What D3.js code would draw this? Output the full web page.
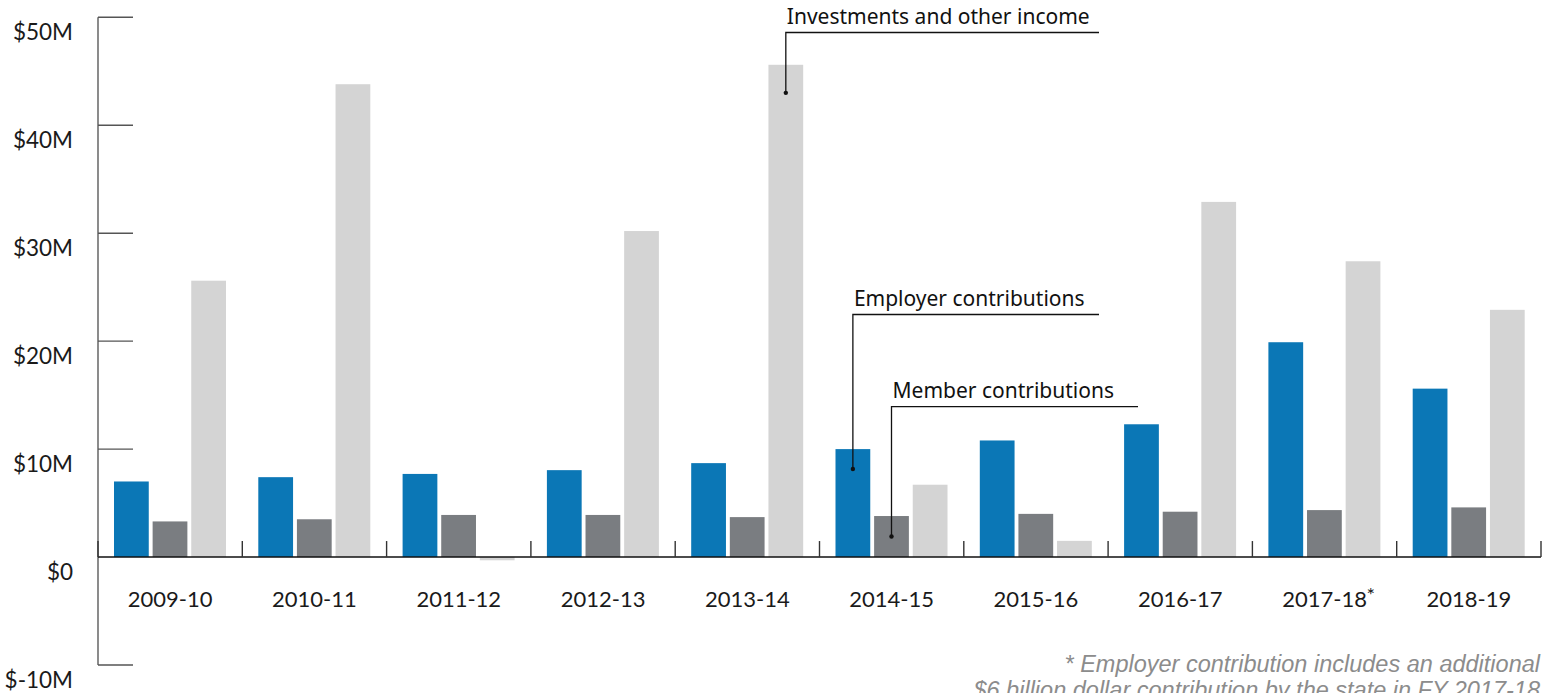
<!DOCTYPE html>
<html>
<head>
<meta charset="utf-8">
<script src="https://cdn.jsdelivr.net/npm/d3@7"></script>
<style>
  body { margin: 0; background: #fff; }
  svg { display: block; }
</style>
</head>
<body>
<div id="chart"></div>
<script>
// Data (millions of dollars)
const years = ["2009-10", "2010-11", "2011-12", "2012-13", "2013-14", "2014-15", "2015-16", "2016-17", "2017-18", "2018-19"];
const employer = [7.0, 7.4, 7.7, 8.05, 8.7, 10.0, 10.8, 12.3, 19.9, 15.6];
const member = [3.3, 3.5, 3.9, 3.9, 3.7, 3.8, 4.0, 4.2, 4.35, 4.6];
const investments = [25.6, 43.8, -0.3, 30.2, 45.6, 6.7, 1.5, 32.9, 27.4, 22.9];
const yTicks = [-10, 0, 10, 20, 30, 40, 50];
const seriesKeys = ["employer", "member", "investments"];
const seriesColors = ["#0b77b6", "#7a7d81", "#d4d4d4"];

const width = 1542, height = 693;
const svg = d3.select("#chart").append("svg")
    .attr("width", width)
    .attr("height", height);

const y = d3.scaleLinear().domain([-10, 50]).range([665, 17.3]);
const x = d3.scaleBand().domain(years).range([98, 1541]).paddingInner(0).paddingOuter(0);
const xInner = d3.scaleBand().domain(seriesKeys)
    .range([16, x.bandwidth() - 16.3]).paddingInner(0.1).paddingOuter(0);

const rows = years.map((yr, i) => ({
    year: yr,
    values: [employer[i], member[i], investments[i]]
}));

// Y axis: vertical line + short ticks to the right
svg.append("line")
    .attr("x1", 98).attr("x2", 98)
    .attr("y1", y(50)).attr("y2", y(-10))
    .style("stroke", "#6f6f6f").style("stroke-width", 1.6);

yTicks.filter(d => d !== 0).forEach(t => {
    svg.append("line")
        .attr("x1", 98).attr("x2", 133)
        .attr("y1", y(t)).attr("y2", y(t))
        .style("stroke", "#555").style("stroke-width", 1.4);
});

svg.selectAll("text.ylab").data(yTicks).enter().append("text")
    .attr("class", "ylab")
    .attr("x", 73)
    .attr("y", d => y(d) + 23)
    .attr("text-anchor", "end")
    .style("font-family", "Lato, sans-serif")
    .style("font-size", "22.5px")
    .style("fill", "#1a1a1a")
    .text(d => d === 0 ? "$0" : `$${d}M`);

// Bars
const groups = svg.selectAll("g.grp").data(rows).enter().append("g")
    .attr("class", "grp")
    .attr("transform", d => `translate(${x(d.year)},0)`);

groups.selectAll("rect").data(d => d.values.map((v, j) => ({ key: seriesKeys[j], v, j })))
    .enter().append("rect")
    .attr("x", d => xInner(d.key))
    .attr("width", xInner.bandwidth())
    .attr("y", d => y(Math.max(0, d.v)))
    .attr("height", d => Math.abs(y(d.v) - y(0)))
    .style("fill", d => seriesColors[d.j]);

// Zero baseline and group separators
svg.append("line")
    .attr("x1", 98).attr("x2", 1541)
    .attr("y1", y(0)).attr("y2", y(0))
    .style("stroke", "#111").style("stroke-width", 1.6);

const seps = years.map(d => x(d)).concat([x.range()[1]]);
svg.selectAll("line.sep").data(seps).enter().append("line")
    .attr("class", "sep")
    .attr("x1", d => d).attr("x2", d => d)
    .attr("y1", y(0) - 16).attr("y2", y(0))
    .style("stroke", "#333").style("stroke-width", 1.4);

// Category labels
svg.selectAll("text.cat").data(years).enter().append("text")
    .attr("class", "cat")
    .attr("x", d => x(d) + x.bandwidth() / 2)
    .attr("y", 607)
    .attr("text-anchor", "middle")
    .style("font-family", "Lato, sans-serif")
    .style("font-size", "22px")
    .style("fill", "#1a1a1a")
    .text(d => d);

svg.append("text")
    .attr("x", x("2017-18") + x.bandwidth() / 2 + 42)
    .attr("y", 602)
    .style("font-family", "Lato, sans-serif")
    .style("font-size", "20px")
    .style("fill", "#1a1a1a")
    .text("*");

// Annotations
const annotations = [
    { label: "Investments and other income", year: "2013-14", key: "investments", dot: 43.0, lineY: 32.5, lineEnd: 1099 },
    { label: "Employer contributions", year: "2014-15", key: "employer", dot: 8.15, lineY: 314.5, lineEnd: 1099 },
    { label: "Member contributions", year: "2014-15", key: "member", dot: 1.9, lineY: 406.7, lineEnd: 1138 }
];

annotations.forEach(a => {
    const cx = x(a.year) + xInner(a.key) + xInner.bandwidth() / 2;
    const cy = y(a.dot);
    svg.append("path")
        .attr("d", `M${cx},${cy}V${a.lineY}H${a.lineEnd}`)
        .style("fill", "none")
        .style("stroke", "#111")
        .style("stroke-width", 1.3);
    svg.append("circle")
        .attr("cx", cx).attr("cy", cy).attr("r", 2.2)
        .style("fill", "#111");
    svg.append("text")
        .attr("x", cx + 1)
        .attr("y", a.lineY - 9)
        .style("font-family", "'Noto Sans', sans-serif")
        .style("font-size", "21px")
        .style("fill", "#111")
        .text(a.label);
});

// Footnote
const foot = ["* Employer contribution includes an additional",
              "$6 billion dollar contribution by the state in FY 2017-18"];
svg.selectAll("text.foot").data(foot).enter().append("text")
    .attr("class", "foot")
    .attr("x", 1540)
    .attr("y", (d, i) => 672 + i * 26)
    .attr("text-anchor", "end")
    .style("font-family", "'Liberation Sans', Arial, sans-serif")
    .style("font-style", "italic")
    .style("font-size", "23.5px")
    .style("fill", "#8c8c8c")
    .text(d => d);
</script>
</body>
</html>
